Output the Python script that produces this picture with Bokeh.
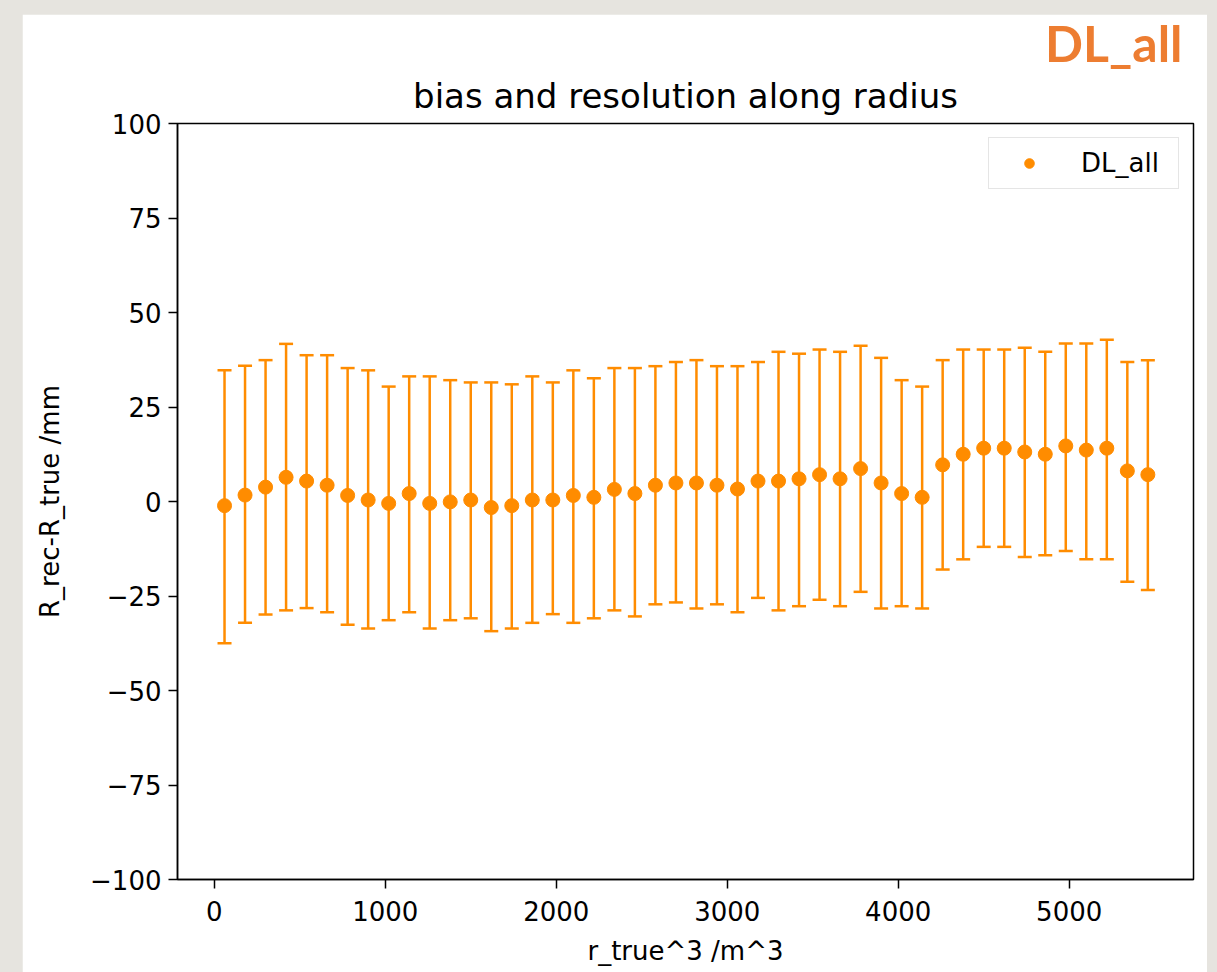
from bokeh.plotting import figure
from bokeh.models import (ColumnDataSource, Range1d, FixedTicker, Whisker, TeeHead,
                          Title, Legend)
from bokeh.layouts import column
from bokeh.embed import file_html
from bokeh.resources import INLINE

# ---- data ----
r3_centers = [60, 180, 300, 420, 540, 660, 780, 900, 1020, 1140, 1260, 1380, 1500, 1620,
              1740, 1860, 1980, 2100, 2220, 2340, 2460, 2580, 2700, 2820, 2940, 3060,
              3180, 3300, 3420, 3540, 3660, 3780, 3900, 4020, 4140, 4260, 4380, 4500,
              4620, 4740, 4860, 4980, 5100, 5220, 5340, 5460]
bias = [-1.1, 1.7, 3.8, 6.4, 5.4, 4.3, 1.6, 0.4, -0.5, 2.1, -0.5, -0.1, 0.4, -1.6, -1.1,
        0.4, 0.4, 1.6, 1.1, 3.2, 2.1, 4.3, 4.9, 4.9, 4.3, 3.3, 5.4, 5.4, 6.0, 7.1, 6.0,
        8.7, 4.9, 2.1, 1.1, 9.7, 12.5, 14.1, 14.1, 13.1, 12.5, 14.7, 13.6, 14.1, 8.1, 7.1]
upper_edge = [34.7, 35.9, 37.4, 41.7, 38.7, 38.7, 35.3, 34.7, 30.4, 33.1, 33.1, 32.1, 31.5,
              31.5, 31.0, 33.1, 31.5, 34.7, 32.6, 35.3, 35.3, 35.8, 36.9, 37.4, 35.8, 35.8,
              36.9, 39.6, 39.1, 40.2, 39.6, 41.2, 38.0, 32.1, 30.4, 37.4, 40.2, 40.2, 40.2,
              40.7, 39.6, 41.8, 41.8, 42.8, 36.9, 37.4]
lower_edge = [-37.5, -32.1, -29.9, -28.8, -28.2, -29.3, -32.6, -33.6, -31.4, -29.3, -33.6,
              -31.4, -30.9, -34.3, -33.6, -32.1, -29.8, -32.1, -30.9, -28.8, -30.4, -27.2,
              -26.7, -28.3, -27.2, -29.3, -25.5, -28.8, -27.7, -26.0, -27.7, -23.9, -28.3,
              -27.7, -28.3, -18.0, -15.3, -12.0, -12.0, -14.7, -14.2, -13.1, -15.3, -15.3,
              -21.2, -23.4]
x_ticks = [0, 1000, 2000, 3000, 4000, 5000]
y_ticks = [-100, -75, -50, -25, 0, 25, 50, 75, 100]
y_tick_labels = ["\u2212100", "\u221275", "\u221250", "\u221225", "0", "25", "50", "75", "100"]
series_name = "DL_all"
chart_title = "bias and resolution along radius"

ORANGE = "#ff8c00"
FONT = "DejaVu Sans"

src = ColumnDataSource(dict(x=r3_centers, y=bias, upper=upper_edge, lower=lower_edge))

p = figure(width=1185, height=958, output_backend="svg", toolbar_location=None,
           x_range=Range1d(-215, 5727), y_range=Range1d(-100, 100), title=None,
           min_border_left=155, min_border_right=14, min_border_top=109, min_border_bottom=93)
p.margin = (14, 10, 0, 22)
p.border_fill_color = "white"
p.background_fill_color = "white"
p.outline_line_color = "black"
p.outline_line_width = 1.5
p.xgrid.visible = False
p.ygrid.visible = False

main_title = Title(text=chart_title, align="center", text_font=FONT, text_font_style="normal",
                   text_font_size="34px", text_color="black", standoff=16)
p.add_layout(main_title, "above")
tag = Title(text=series_name, align="right", text_font="Lato", text_font_style="bold",
            text_font_size="50px", text_color="#ed7d31", offset=11, standoff=-14)
p.add_layout(tag, "above")

for ax in (p.xaxis[0], p.yaxis[0]):
    ax.axis_line_color = "black"
    ax.axis_line_width = 1.5
    ax.major_tick_line_color = "black"
    ax.major_tick_line_width = 1.5
    ax.major_tick_in = 0
    ax.major_tick_out = 9
    ax.minor_tick_line_color = None
    ax.major_label_text_font = FONT
    ax.major_label_text_font_size = "26px"
    ax.major_label_text_color = "black"
    ax.axis_label_text_font = FONT
    ax.axis_label_text_font_size = "26px"
    ax.axis_label_text_font_style = "normal"
    ax.axis_label_text_color = "black"

p.xaxis.ticker = FixedTicker(ticks=x_ticks)
p.yaxis.ticker = FixedTicker(ticks=y_ticks)
p.yaxis.major_label_overrides = {t: s for t, s in zip(y_ticks, y_tick_labels)}
p.xaxis.axis_label = "r_true^3 /m^3"
p.yaxis.axis_label = "R_rec-R_true /mm"
p.xaxis.major_label_standoff = 12
p.yaxis.major_label_standoff = 7
p.xaxis.axis_label_standoff = 12
p.yaxis.axis_label_standoff = 22

whisk = Whisker(source=src, base="x", upper="upper", lower="lower", dimension="height",
                line_color=ORANGE, line_width=2.5,
                upper_head=TeeHead(size=14, line_color=ORANGE, line_width=2.5),
                lower_head=TeeHead(size=14, line_color=ORANGE, line_width=2.5))
p.add_layout(whisk)

r = p.scatter("x", "y", source=src, size=14, fill_color=ORANGE, line_color=ORANGE)

legend = Legend(items=[(series_name, [r])], location="top_right")
legend.padding = 10
legend.glyph_width = 60
legend.glyph_height = 24
legend.label_standoff = 22
legend.label_width = 87
legend.label_text_font = FONT
legend.label_text_font_size = "26px"
legend.label_text_color = "black"
legend.border_line_color = "#cccccc"
legend.border_line_width = 1
legend.background_fill_alpha = 0.8
legend.margin = 14
p.add_layout(legend)

root = column(p, styles={"background-color": "#e6e4df"})

open("out.html", "w").write(file_html(root, INLINE))
